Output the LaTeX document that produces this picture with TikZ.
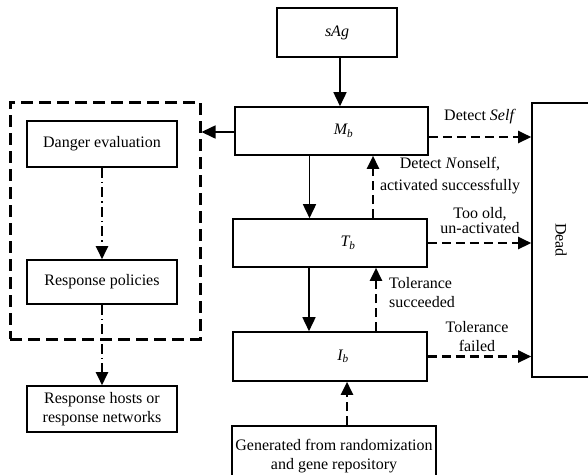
\documentclass[tikz,border=0pt]{standalone}
\usepackage{fontspec}
\setmainfont{Liberation Serif}
\usetikzlibrary{arrows.meta}

\begin{document}
\begin{tikzpicture}[
      x = 1pt, y = -1pt,
      font = \fontsize{16}{19}\selectfont,
      blk/.style={
        draw,
        line width = 1.6pt,
        inner sep = 0pt,
        align = center,
      },
      lbl/.style={
        inner sep = 0pt,
        align = center,
      },
      solidarr/.style={
        line width = 1.6pt,
        -{Triangle[length=14pt,width=13pt]},
      },
      dasharr/.style={
        line width = 2.5pt,
        dash pattern = on 9pt off 5pt,
        -{Triangle[length=13pt,width=12pt]},
      },
      dotarr/.style={
        line width = 2.4pt,
        dash pattern = on 10pt off 4pt on 1.5pt off 4pt,
        -{Triangle[length=13pt,width=12pt]},
      },
    ]
    \useasboundingbox (0,0) rectangle (588,474);

    % main chain
    \node[blk, minimum width=120pt, minimum height=49pt] (sag) at (337,32.5) {\textit{sAg}};
    \node[blk, minimum width=193pt, minimum height=48pt] (mb) at (331.5,131)
      {\hspace*{24pt}\textit{M\textsubscript{b}}};
    \node[blk, minimum width=194pt, minimum height=48pt] (tb) at (330,243)
      {\hspace*{36pt}\textit{T\textsubscript{b}}};
    \node[blk, minimum width=194pt, minimum height=49pt] (ib) at (330,356.5)
      {\hspace*{26pt}\textit{I\textsubscript{b}}};
    \node[blk, minimum width=204pt, minimum height=60pt] (gen) at (334,456)
      {Generated from randomization\\and gene repository};
    \node[blk, minimum width=58pt, minimum height=274pt] (dead) at (561,240)
      {\rotatebox{-90}{Dead}};

    % response side
    \node[draw, line width=3pt, dash pattern=on 12pt off 6pt,
      minimum width=190pt, minimum height=237pt] (frame) at (105,220.5) {};
    \node[blk, minimum width=150pt, minimum height=46pt] (danger) at (102,144) {Danger evaluation};
    \node[blk, minimum width=150pt, minimum height=44pt] (policy) at (102,282) {Response policies};
    \node[blk, minimum width=150pt, minimum height=46pt] (hosts) at (102,409)
      {Response hosts or\\response networks};

    \draw[solidarr] ([xshift=3pt]sag.south) -- ([xshift=3pt]sag.south |- mb.north);
    \draw[solidarr] ([xshift=-22pt]mb.south) -- ([xshift=-22pt]mb.south |- tb.north);
    \draw[solidarr] ([xshift=-21pt]tb.south) -- ([xshift=-21pt]tb.south |- ib.north);
    \draw[solidarr] ([yshift=-1pt]mb.west) -- ([yshift=-1pt]mb.west -| frame.east);

    \draw[dasharr] ([xshift=43pt]tb.north) -- ([xshift=43pt]tb.north |- mb.south);
    \draw[dasharr] ([xshift=46pt]ib.north) -- ([xshift=46pt]ib.north |- tb.south);
    \draw[dasharr] ([xshift=13pt]gen.north) -- ([xshift=13pt]gen.north |- ib.south);

    \draw[dasharr] ([yshift=-6pt]mb.east) -- ([yshift=-6pt]mb.east -| dead.west);
    \draw[dasharr] (tb.east) -- (tb.east -| dead.west);
    \draw[dasharr] (ib.east) -- (ib.east -| dead.west);

    \draw[dotarr] (danger) -- (policy);
    \draw[dotarr] (policy) -- (hosts);

    % arrow labels
    \node[lbl] (lself) at (480,117) {Detect \textit{Self}};
    \node[lbl, font=\fontsize{16}{22}\selectfont] (lnonself) at (450,176)
      {Detect \textit{N}onself,\\activated successfully};
    \node[lbl, font=\fontsize{16}{15}\selectfont] (lold) at (480,221) {Too old,\\un-activated};
    \node[lbl, anchor=west, align=left] (lsucc) at (389,292.5) {Tolerance\\succeeded};
    \node[lbl] (lfail) at (477,336.5) {Tolerance\\failed};
  \end{tikzpicture}
\end{document}
